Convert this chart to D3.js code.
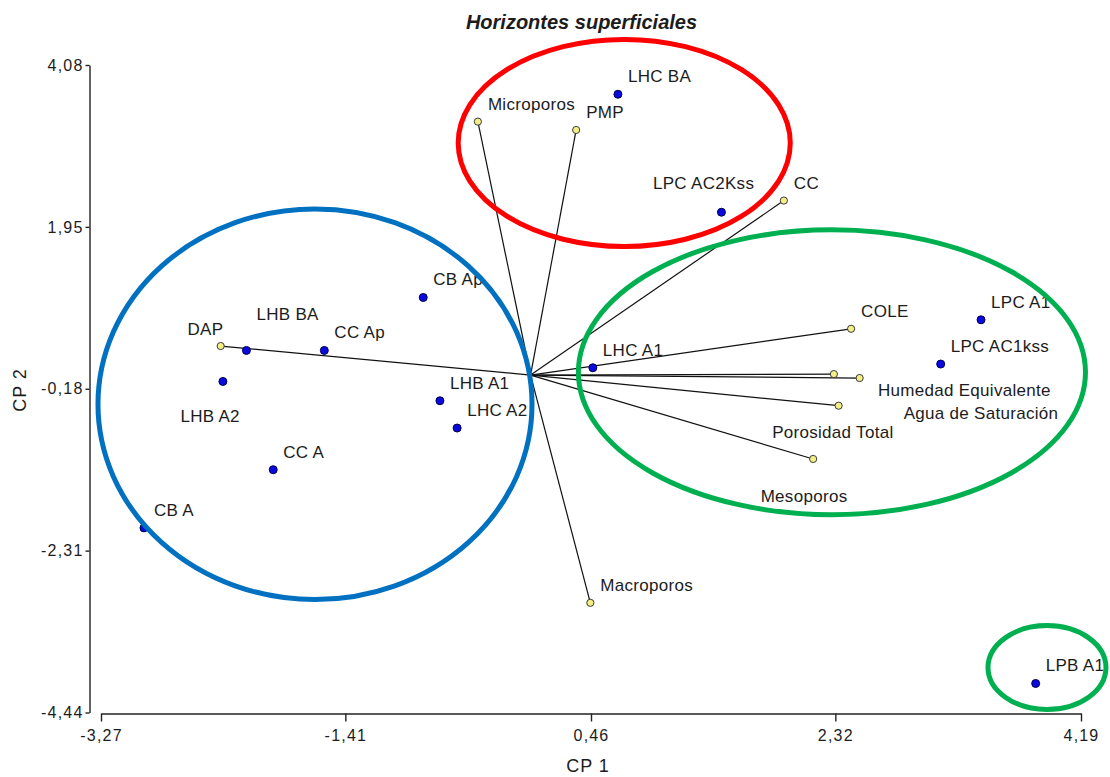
<!DOCTYPE html>
<html>
<head>
<meta charset="utf-8">
<script src="https://cdn.jsdelivr.net/npm/d3@7"></script>
<style>
  html, body { margin: 0; padding: 0; background: #fff; }
  svg { display: block; }
  text { font-family: "Liberation Sans", Arial, sans-serif; fill: #1c1c1c; }
</style>
</head>
<body>
<svg id="chart" width="1110" height="777"></svg>
<script>
// Biplot PCA: Horizontes superficiales (CP 1 vs CP 2)

// Observations (soil horizons)
const obsNames = ["LHC BA", "LPC AC2Kss", "CB Ap", "LHB BA", "CC Ap", "LHB A2", "LHB A1",
                  "LHC A2", "CC A", "CB A", "LHC A1", "LPC A1", "LPC AC1kss", "LPB A1"];
const obsCP1 = [0.665, 1.453, -0.817, -2.163, -1.570, -2.342, -0.690,
                -0.559, -1.959, -2.943, 0.474, 3.429, 3.122, 3.845];
const obsCP2 = [3.695, 2.143, 1.021, 0.324, 0.324, -0.084, -0.338,
                -0.697, -1.245, -2.011, 0.096, 0.727, 0.145, -4.058];

// Variables (loading vectors)
const varNames = ["Microporos", "PMP", "CC", "COLE", "Humedad Equivalente", "Agua de Saturación",
                  "Porosidad Total", "Mesoporos", "Macroporos", "DAP"];
const varCP1 = [-0.401, 0.347, 1.928, 2.440, 2.309, 2.505, 2.345, 2.151, 0.455, -2.359];
const varCP2 = [3.335, 3.225, 2.296, 0.609, 0.013, -0.039, -0.403, -1.104, -2.997, 0.382];

// Axis ticks
const xTicks = [-3.27, -1.41, 0.46, 2.32, 4.19];
const yTicks = [-4.44, -2.31, -0.18, 1.95, 4.08];

// Group outlines (centre and semi-axes in CP units)
const groupNames = ["rojo", "azul", "verde", "verde2"];
const groupCX = [0.713, -1.641, 2.294, 3.931];
const groupCY = [3.054, -0.384, 0.037, -3.848];
const groupRX = [1.264, 1.652, 1.930, 0.449];
const groupRY = [1.363, 2.570, 1.874, 0.552];
const groupColors = ["#ff0000", "#0070c0", "#00b050", "#00b050"];

// Label placement (pixel offsets from the marker)
const defaultOffset = [10, -18];
const labelOffsets = {
  "LPC AC2Kss": [-68.5, -29],
  "LHB BA": [10, -36],
  "LHB A2": [-42.5, 35],
  "Humedad Equivalente": [44, 15.7],
  "Agua de Saturación": [44, 35],
  "Porosidad Total": [-66.5, 26.7],
  "Mesoporos": [-52.5, 37.4],
  "DAP": [-33.2, -17.3]
};

const svg = d3.select("#chart");

const x = d3.scaleLinear().domain([-3.27, 4.19]).range([101, 1081]);
const y = d3.scaleLinear().domain([-4.44, 4.08]).range([712.5, 65]);

const fmt = v => d3.format(".2f")(v).replace(".", ",").replace("−", "-");

// Axes
const xAxis = svg.append("g")
  .attr("transform", "translate(0,713.5)")
  .call(d3.axisBottom(x).tickValues(xTicks).tickSize(8).tickSizeOuter(0).tickPadding(8).tickFormat(fmt));
const yAxis = svg.append("g")
  .attr("transform", "translate(89.5,0)")
  .call(d3.axisLeft(y).tickValues(yTicks).tickSize(4).tickSizeOuter(0).tickPadding(2).tickFormat(fmt));

[xAxis, yAxis].forEach(g => {
  g.attr("font-size", null).attr("font-family", null);
  g.select(".domain").attr("stroke", "#222").attr("stroke-width", 1.4);
  g.selectAll(".tick line").attr("stroke", "#222").attr("stroke-width", 1.4);
  g.selectAll(".tick text")
    .attr("fill", "#1c1c1c")
    .style("font-size", "16px")
    .style("letter-spacing", "1.2px");
});

// Axis titles
svg.append("text")
  .attr("x", 588).attr("y", 766).attr("dy", "0.35em")
  .attr("text-anchor", "middle")
  .style("font-size", "18px").style("letter-spacing", "1px")
  .text("CP 1");
svg.append("text")
  .attr("transform", "translate(19.5,390) rotate(-90)")
  .attr("dy", "0.35em")
  .attr("text-anchor", "middle")
  .style("font-size", "18px").style("letter-spacing", "1px")
  .text("CP 2");

// Title
svg.append("text")
  .attr("x", 581.5).attr("y", 28.5)
  .attr("text-anchor", "middle")
  .style("font-size", "20px").style("font-weight", "bold").style("font-style", "italic")
  .text("Horizontes superficiales");

// Loading vectors
const vars = varNames.map((n, i) => ({ name: n, cp1: varCP1[i], cp2: varCP2[i] }));
const obs = obsNames.map((n, i) => ({ name: n, cp1: obsCP1[i], cp2: obsCP2[i] }));

svg.append("g").selectAll("line").data(vars).join("line")
  .attr("x1", x(0)).attr("y1", y(0))
  .attr("x2", d => x(d.cp1)).attr("y2", d => y(d.cp2))
  .attr("stroke", "#111").attr("stroke-width", 1.2);

// Variable markers
svg.append("g").selectAll("circle").data(vars).join("circle")
  .attr("cx", d => x(d.cp1)).attr("cy", d => y(d.cp2)).attr("r", 3.6)
  .attr("fill", "#f3ef86").attr("stroke", "#3a3a3a").attr("stroke-width", 1);

// Observation markers
svg.append("g").selectAll("circle").data(obs).join("circle")
  .attr("cx", d => x(d.cp1)).attr("cy", d => y(d.cp2)).attr("r", 4)
  .attr("fill", "#0a0ae0").attr("stroke", "#00004a").attr("stroke-width", 1);

// Labels
const offset = n => labelOffsets[n] || defaultOffset;
svg.append("g").selectAll("text").data(vars.concat(obs)).join("text")
  .attr("x", d => x(d.cp1) + offset(d.name)[0])
  .attr("y", d => y(d.cp2) + offset(d.name)[1])
  .attr("dy", "0.35em")
  .style("font-size", "17px")
  .style("letter-spacing", "0.3px")
  .text(d => d.name);

// Group outlines
const groups = groupNames.map((n, i) => ({
  name: n, cx: groupCX[i], cy: groupCY[i], rx: groupRX[i], ry: groupRY[i], color: groupColors[i]
}));
svg.append("g").selectAll("ellipse").data(groups).join("ellipse")
  .attr("cx", d => x(d.cx)).attr("cy", d => y(d.cy))
  .attr("rx", d => x(d.cx + d.rx) - x(d.cx))
  .attr("ry", d => y(d.cy) - y(d.cy + d.ry))
  .attr("fill", "none").attr("stroke", d => d.color).attr("stroke-width", 5);
</script>
</body>
</html>
